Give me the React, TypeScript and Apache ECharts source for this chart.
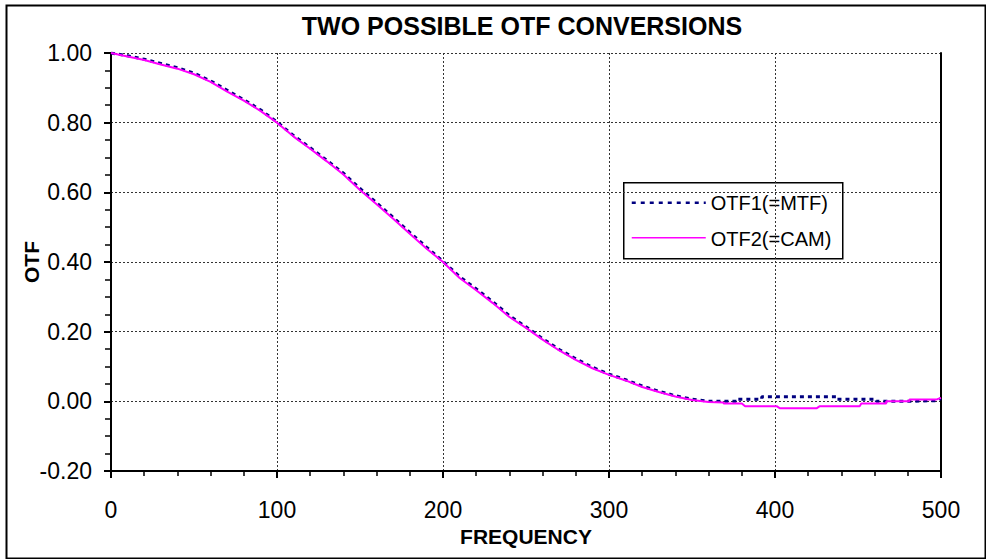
import React, { useEffect, useRef } from "react";
import * as echarts from "echarts";

const TITLE = "TWO POSSIBLE OTF CONVERSIONS";
const X_NAME = "FREQUENCY";
const Y_NAME = "OTF";
const SERIES_NAMES = ["OTF1(=MTF)", "OTF2(=CAM)"];
const SERIES_COLORS = ["#000080", "#ff00ff"];

// frequency samples
const freqMain = [0, 10, 20, 30, 40, 50, 60, 70, 80, 90, 100, 110, 120, 130, 140, 150, 160, 170, 180, 190, 200, 210, 220, 230, 240, 250, 260, 270, 280, 290, 300, 310, 320, 330, 340, 350, 360];
const otf1Main = [1.0, 0.992, 0.982, 0.97, 0.958, 0.942, 0.92, 0.893, 0.866, 0.837, 0.802, 0.763, 0.728, 0.692, 0.655, 0.611, 0.57, 0.528, 0.485, 0.443, 0.402, 0.358, 0.323, 0.286, 0.246, 0.214, 0.18, 0.149, 0.122, 0.098, 0.078, 0.062, 0.044, 0.029, 0.016, 0.006, 0.0];
const otf2Main = [1.0, 0.99, 0.98, 0.967, 0.955, 0.939, 0.917, 0.889, 0.863, 0.834, 0.8, 0.76, 0.725, 0.689, 0.651, 0.607, 0.566, 0.524, 0.481, 0.439, 0.4, 0.354, 0.319, 0.282, 0.242, 0.211, 0.177, 0.146, 0.119, 0.095, 0.076, 0.06, 0.041, 0.027, 0.014, 0.004, -0.002];

// tail region (stepped values)
const otf1TailFreq = [377, 377, 392, 392, 437, 437, 461, 461, 481, 481, 497, 500];
const otf1TailVal = [0.0, 0.006, 0.006, 0.013, 0.013, 0.006, 0.006, 0.0, 0.0, 0.002, 0.002, 0.008];
const otf2TailFreq = [369, 369, 380, 382, 401, 403, 425, 427, 451, 452, 467, 467, 481, 481, 497, 500];
const otf2TailVal = [-0.003, -0.006, -0.006, -0.014, -0.014, -0.02, -0.02, -0.014, -0.014, -0.006, -0.006, 0.0, 0.0, 0.005, 0.005, 0.01];

const X_MIN = 0, X_MAX = 500, X_STEP = 100;
const Y_MIN = -0.2, Y_MAX = 1.0, Y_STEP = 0.2;

const zip = (xs: number[], ys: number[]) => xs.map((x, i) => [x, ys[i]]);

export default function App() {
  const ref = useRef<HTMLDivElement>(null);
  useEffect(() => {
    document.body.style.margin = "0";
    const chart = echarts.init(ref.current!, null, { renderer: "svg" });
    const font = "'Liberation Sans', Arial, sans-serif";
    const d1 = [...zip(freqMain, otf1Main), ...zip(otf1TailFreq, otf1TailVal)];
    const d2 = [...zip(freqMain, otf2Main), ...zip(otf2TailFreq, otf2TailVal)];
    chart.setOption({
      animation: false,
      backgroundColor: "#fff",
      textStyle: { fontFamily: font },
      title: {
        text: TITLE,
        left: 517,
        top: 8,
        textAlign: "center",
        textStyle: { fontFamily: font, fontSize: 25, fontWeight: "bold", color: "#000" },
      },
      grid: { left: 111, right: 45, top: 53, bottom: 88, containLabel: false },
      xAxis: {
        type: "value",
        min: X_MIN,
        max: X_MAX,
        interval: X_STEP,
        name: X_NAME,
        nameLocation: "middle",
        nameGap: 54,
        nameTextStyle: { fontFamily: font, fontSize: 21, fontWeight: "bold", color: "#000" },
        axisLine: { show: true, onZero: false, lineStyle: { color: "#000", width: 2 } },
        axisTick: { show: true, inside: false, length: 7, lineStyle: { color: "#000", width: 2 } },
        minorTick: { show: true, splitNumber: 5, length: 5, lineStyle: { color: "#000", width: 1.5 } },
        axisLabel: { fontFamily: font, fontSize: 23, color: "#000", margin: 27 },
        splitLine: { show: true, lineStyle: { color: "#333", width: 1, type: [2, 2] } },
      },
      yAxis: [
        {
          type: "value",
          min: Y_MIN,
          max: Y_MAX,
          interval: Y_STEP,
          axisLine: { show: true, onZero: false, lineStyle: { color: "#000", width: 2 } },
          axisTick: { show: true, inside: false, length: 7, lineStyle: { color: "#000", width: 2 } },
          minorTick: { show: true, splitNumber: 4, length: 6, lineStyle: { color: "#000", width: 1.5 } },
          axisLabel: {
            fontFamily: font,
            fontSize: 23,
            color: "#000",
            margin: 19,
            formatter: (v: number) => v.toFixed(2),
          },
          splitLine: { show: true, lineStyle: { color: "#333", width: 1, type: [2, 2] } },
        },
        {
          type: "value",
          position: "right",
          min: Y_MIN,
          max: Y_MAX,
          interval: Y_STEP,
          axisLine: { show: true, onZero: false, lineStyle: { color: "#000", width: 2 } },
          axisTick: { show: false },
          axisLabel: { show: false },
          splitLine: { show: false },
        },
      ],
      series: [
        {
          name: SERIES_NAMES[0],
          type: "line",
          data: d1,
          showSymbol: false,
          symbol: "none",
          color: SERIES_COLORS[0],
          lineStyle: { color: SERIES_COLORS[0], width: 3, type: [4, 4] },
          z: 2,
        },
        {
          name: SERIES_NAMES[1],
          type: "line",
          data: d2,
          showSymbol: false,
          symbol: "none",
          color: SERIES_COLORS[1],
          lineStyle: { color: SERIES_COLORS[1], width: 2 },
          z: 3,
        },
      ],
      graphic: [
        {
          type: "rect",
          left: 4,
          top: 3,
          shape: { x: 0, y: 0, width: 979, height: 553 },
          style: { fill: "none", stroke: "#000", lineWidth: 2 },
          silent: true,
          z: 10,
        },
        {
          type: "text",
          x: 31,
          y: 262,
          rotation: Math.PI / 2,
          style: {
            text: Y_NAME,
            fill: "#000",
            font: `bold 21px ${font}`,
            align: "center",
            verticalAlign: "middle",
          },
          z: 10,
        },
        {
          type: "group",
          left: 623,
          top: 182,
          z: 20,
          children: [
            {
              type: "rect",
              shape: { x: 0, y: 0, width: 219, height: 76 },
              style: { fill: "#fff", stroke: "#000", lineWidth: 1.5 },
            },
            {
              type: "line",
              shape: { x1: 8, y1: 20, x2: 82, y2: 20 },
              style: { stroke: SERIES_COLORS[0], lineWidth: 2.5, lineDash: [4, 5] },
            },
            {
              type: "text",
              x: 87,
              y: 20,
              style: { text: SERIES_NAMES[0], fill: "#000", font: `20px ${font}`, verticalAlign: "middle", align: "left" },
            },
            {
              type: "line",
              shape: { x1: 8, y1: 55, x2: 82, y2: 55 },
              style: { stroke: SERIES_COLORS[1], lineWidth: 1.5 },
            },
            {
              type: "text",
              x: 87,
              y: 56,
              style: { text: SERIES_NAMES[1], fill: "#000", font: `20px ${font}`, verticalAlign: "middle", align: "left" },
            },
          ],
        },
      ],
    });
    return () => chart.dispose();
  }, []);
  return <div ref={ref} style={{ width: 986, height: 559 }} />;
}
